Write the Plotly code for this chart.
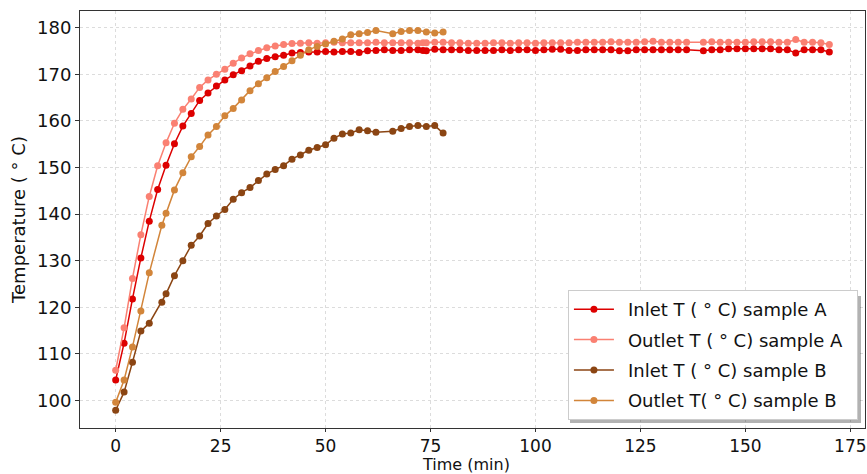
import plotly.graph_objects as go

# ---- data ----
time_A = [0, 2, 4, 6, 8, 10, 12, 14, 16, 18, 20, 22, 24, 26, 28, 30, 32, 34, 36, 38,
          40, 42, 44, 46, 48, 50, 52, 54, 56, 58, 60, 62, 64, 66, 68, 70, 72, 73.2, 74, 76,
          78, 80, 82, 84, 86, 88, 90, 92, 94, 96, 98, 100, 102, 104, 106, 108, 110, 112, 114, 116,
          118, 120, 122, 124, 126, 128, 130, 132, 134, 136, 140, 142, 144, 146, 148, 150, 152, 154, 156, 158,
          160, 162, 164, 166, 168, 170]
inlet_A = [104.4, 112.3, 121.8, 130.6, 138.5, 145.3, 150.5, 155.1, 158.9, 161.6,
           164.4, 166.0, 167.5, 168.8, 169.9, 170.8, 171.8, 172.8, 173.4, 173.8,
           174.1, 174.6, 174.7, 174.8, 174.8, 174.9, 174.8, 174.9, 174.9, 174.7,
           175.05, 175.1, 175.3, 175.1, 175.1, 175.3, 175.3, 175.1, 175.05, 175.4,
           175.3, 175.3, 175.3, 175.1, 175.1, 175.1, 175.1, 175.3, 175.1, 175.3,
           175.3, 175.1, 175.3, 175.4, 175.4, 175.1, 175.1, 175.3, 175.3, 175.3,
           175.3, 175.05, 175.05, 175.3, 175.3, 175.3, 175.3, 175.3, 175.3, 175.3,
           175.05, 175.3, 175.3, 175.5, 175.5, 175.5, 175.5, 175.5, 175.5, 175.3,
           175.3, 174.6, 175.3, 175.3, 175.3, 174.8]
outlet_A = [106.5, 115.6, 126.2, 135.6, 143.8, 150.4, 155.3, 159.5, 162.5, 164.7,
            167.2, 168.8, 170.0, 171.1, 172.4, 173.5, 174.4, 175.1, 175.7, 176.1,
            176.4, 176.6, 176.7, 176.8, 176.7, 176.8, 176.9, 176.8, 176.8, 176.8,
            176.8, 176.9, 176.8, 176.8, 176.8, 176.8, 176.7, 176.8, 176.8, 176.9,
            176.9, 176.8, 176.8, 176.7, 176.7, 176.7, 176.8, 176.8, 176.7, 176.8,
            176.8, 176.7, 176.8, 176.8, 176.8, 176.8, 176.9, 176.9, 176.9, 176.9,
            177.0, 176.9, 176.9, 176.9, 177.0, 177.1, 176.9, 176.9, 176.9, 176.9,
            176.9, 177.0, 176.9, 176.9, 176.9, 176.9, 177.0, 177.0, 177.0, 176.9,
            176.9, 177.5, 176.9, 176.9, 176.8, 176.4]

time_B = [0, 2, 4, 6, 8, 11, 12, 14, 16, 18, 20, 22, 24, 26, 28, 30, 32, 34, 36, 38,
          40, 42, 44, 46, 48, 50, 52, 54, 56, 58, 60, 62, 66, 68, 70, 72, 74, 76, 78]
inlet_B = [97.9, 101.8, 108.2, 114.9, 116.6, 121.1, 122.9, 126.8, 130.0, 133.3,
           135.3, 138.0, 139.6, 141.0, 143.2, 144.6, 145.7, 147.2, 148.6, 149.6,
           150.4, 151.8, 152.7, 153.7, 154.3, 154.9, 156.3, 157.2, 157.4, 158.1,
           157.9, 157.6, 157.8, 158.4, 158.8, 159.0, 158.8, 159.0, 157.4]
outlet_B = [99.6, 104.4, 111.5, 119.2, 127.4, 137.6, 140.2, 145.2, 148.9, 152.3,
            154.5, 157.0, 158.8, 161.1, 162.7, 164.5, 166.5, 168.0, 169.3, 170.6,
            171.7, 172.9, 174.1, 175.3, 176.0, 176.5, 177.1, 177.6, 178.5, 178.7,
            179.0, 179.4, 178.7, 179.2, 179.4, 179.4, 179.1, 178.9, 179.1]

labels = ["Inlet T ( ° C) sample A", "Outlet T ( ° C) sample A",
          "Inlet T ( ° C) sample B", "Outlet T( ° C) sample B"]
colors = ["#dd0000", "#fa8072", "#8b4513", "#d2853a"]
x_ticks = [0, 25, 50, 75, 100, 125, 150, 175]
y_ticks = [100, 110, 120, 130, 140, 150, 160, 170, 180]

FONT = "DejaVu Sans"
FS = 18

fig = go.Figure()
series = [(time_A, inlet_A), (time_A, outlet_A), (time_B, inlet_B), (time_B, outlet_B)]
for i, ((t, v), lab, col) in enumerate(zip(series, labels, colors)):
    fig.add_trace(go.Scatter(
        x=t, y=v, mode="lines+markers", name="\u2002" + lab + "\u2002", legendgroup=str(i),
        line=dict(color=col, width=1.5),
        marker=dict(color=col, size=7),
    ))

axis_common = dict(
    showline=True, linecolor="#333333", linewidth=1, mirror=True,
    ticks="outside", tickcolor="#333333",
    showgrid=True, gridcolor="#dcdcdc", griddash="dot", gridwidth=1,
    zeroline=False,
    automargin=False, ticklabeloverflow="allow",
)
fig.update_xaxes(range=[-8.5, 178.5], tickvals=x_ticks, ticklen=3,
                 tickfont=dict(family=FONT, size=17, color="#111"), **axis_common)
fig.update_yaxes(range=[94.1, 183.6], tickvals=y_ticks, ticklen=4,
                 tickfont=dict(family=FONT, size=FS, color="#111"),
                 title=dict(text="Temperature ( ° C)", font=dict(family=FONT, size=FS, color="#111"), standoff=6),
                 **axis_common)

# plot area in pixels: x 80..865, y 11..428
def px_x(p):
    return (p - 80) / 785.0

def px_y(p):
    return (428 - p) / 417.0

# x-axis title
fig.add_annotation(text="Time (min)", xref="paper", yref="paper",
                   x=px_x(466), y=px_y(475), xanchor="center", yanchor="bottom",
                   showarrow=False, borderpad=0,
                   font=dict(family=FONT, size=16, color="#111"))

# legend drop shadow
fig.add_shape(type="rect", xref="paper", yref="paper",
              x0=px_x(570), x1=px_x(861), y0=px_y(423), y1=px_y(296),
              fillcolor="rgba(0,0,0,0.3)", line=dict(width=0), layer="above")

fig.update_layout(
    width=867, height=474,
    margin=dict(l=80, r=2, t=11, b=46),
    paper_bgcolor="white", plot_bgcolor="white",
    font=dict(family=FONT, color="#111"),
    legend=dict(x=0.991, y=px_y(420), xanchor="right", yanchor="bottom",
                bgcolor="white", bordercolor="#cccccc", borderwidth=1,
                font=dict(family=FONT, size=FS, color="#111"),
                tracegroupgap=4, itemwidth=40),
    showlegend=True,
)

fig.write_html("out.html")
